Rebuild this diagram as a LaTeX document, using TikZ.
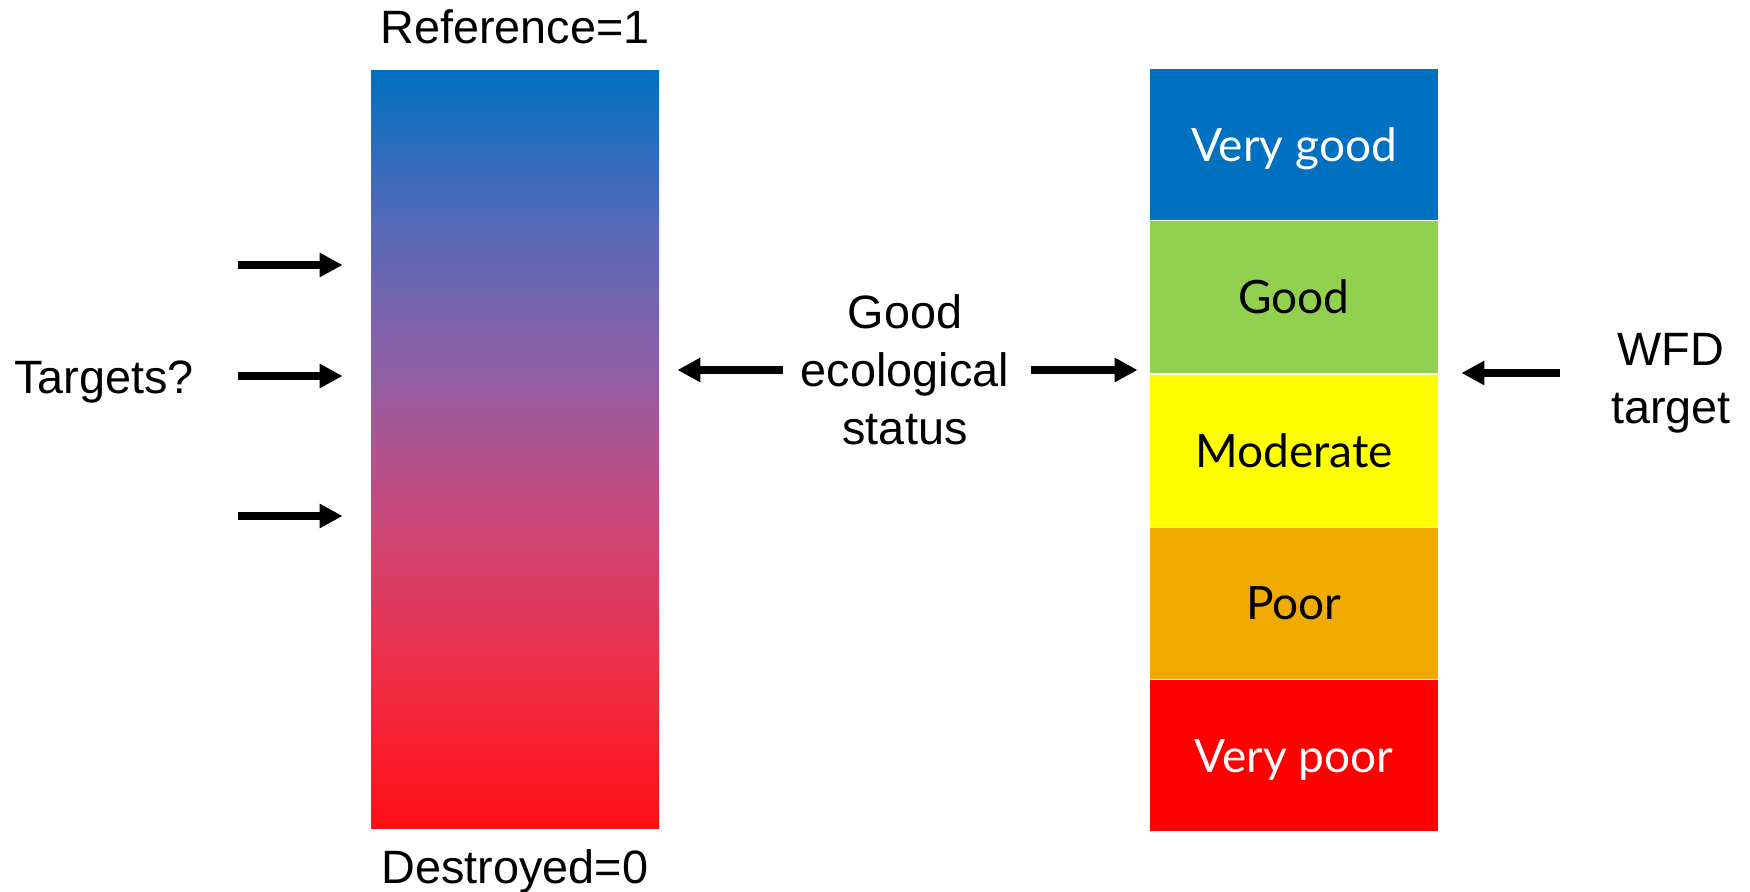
\documentclass[tikz,border=0pt]{standalone}
\usepackage{fontspec}
\setmainfont{Liberation Sans}
\newfontfamily\classfont{Lato}
\definecolor{verygoodblue}{RGB}{0,112,192}
\definecolor{goodgreen}{RGB}{146,208,80}
\definecolor{moderateyellow}{RGB}{255,255,0}
\definecolor{poororange}{RGB}{240,170,0}
\definecolor{verypoorred}{RGB}{255,0,0}
\definecolor{shadetwenty}{RGB}{85,105,185}
\definecolor{shadeforty}{RGB}{145,95,165}
\definecolor{shadesixty}{RGB}{205,70,120}
\definecolor{shadeeighty}{RGB}{240,45,70}
\definecolor{shadebottom}{RGB}{255,15,20}
\usepackage{tikz}
\usetikzlibrary{positioning,arrows.meta,calc}

\pgfdeclareverticalshading{statusshade}{100bp}{color(0bp)=(shadebottom); color(25bp)=(shadebottom); color(35bp)=(shadeeighty); color(45bp)=(shadesixty); color(55bp)=(shadeforty); color(65bp)=(shadetwenty); color(75bp)=(verygoodblue); color(100bp)=(verygoodblue)}

\begin{document}
\begin{tikzpicture}[x=0.5pt,y=-0.5pt,
    labeltext/.style={font=\fontsize{23.4}{29}\selectfont},
    classbox/.style={minimum width=144pt, minimum height=75.7pt, inner sep=0pt,
        text height=16.5pt, text depth=0pt, font=\classfont\fontsize{23}{28}\selectfont},
    bigarrow/.style={line width=4pt, -{Triangle[length=11.5pt,width=11.5pt]}}]
    \useasboundingbox (0,0) rectangle (1750,892);

    % continuous scale
    \node[minimum width=144pt, minimum height=378.5pt, inner sep=0pt,
        shade, shading=statusshade] (refbar) at (515,449.5) {};
    \node[labeltext, anchor=base] (reftop) at (515,44) {Reference=1};
    \node[labeltext, anchor=base] (refbottom) at (515,883) {Destroyed=0};
    \node[labeltext, anchor=base] (targets) at (104,394) {Targets?};
    \foreach \y [count=\i] in {265,376,516} {
        \coordinate (tgt\i) at (238,\y);
        \draw[bigarrow, shorten >=14pt] (tgt\i) -- (tgt\i -| refbar.west);
    }

    % status classes
    \node[classbox, fill=verygoodblue, text=white] (verygood) at (1294,144.7) {Very good};
    \node[classbox, fill=goodgreen, below=0pt of verygood] (good) {Good};
    \node[classbox, fill=moderateyellow, below=1pt of good] (moderate) {Moderate};
    \node[classbox, fill=poororange, below=0pt of moderate] (poor) {Poor};
    \node[classbox, fill=verypoorred, text=white, below=0pt of poor] (verypoor) {Very poor};

    % good ecological status
    \node[labeltext, align=center, inner sep=0pt] (ges) at (905,370) {Good\\ecological\\status};
    \draw[bigarrow, shorten <=9pt, shorten >=9pt] (ges.west) -- (ges.west -| refbar.east);
    \draw[bigarrow, shorten <=11pt, shorten >=6pt] (ges.east) -- (ges.east -| good.west);

    \node[labeltext, align=center, inner sep=0pt] (wfd) at (1671,383) {WFD\\target};
    \draw[bigarrow, shorten <=25.5pt, shorten >=11.5pt] (wfd.west |- good.south east) -- (good.south east);
\end{tikzpicture}
\end{document}
